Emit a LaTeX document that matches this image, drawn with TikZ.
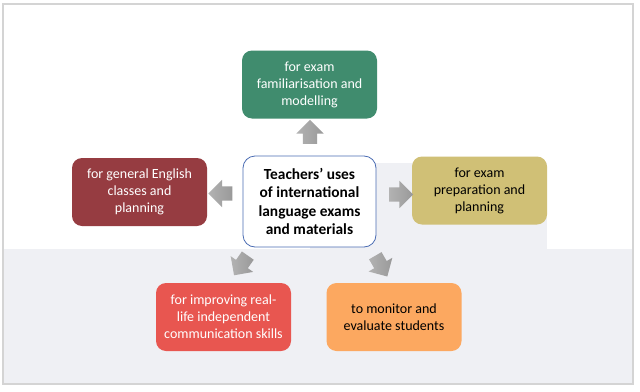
\documentclass[tikz,border=0pt]{standalone}
\usepackage{fontspec}
\setmainfont{Carlito}
\usetikzlibrary{shapes.arrows}
\definecolor{bggray}{HTML}{EFF0F4}
\definecolor{frameg}{HTML}{D4D4D4}
\definecolor{cgreen}{HTML}{408C6E}
\definecolor{cwine}{HTML}{963C41}
\definecolor{cgold}{HTML}{D0C076}
\definecolor{ccoral}{HTML}{E85650}
\definecolor{corange}{HTML}{FCA860}
\definecolor{cblue}{HTML}{4A6CB3}
\tikzset{
  ubox/.style  ={rounded corners=10pt,align=center,inner sep=2pt,
                 font=\fontsize{14}{17}\selectfont,minimum width=135pt,minimum height=68pt},
  hub/.style   ={draw=cblue,line width=.8pt,fill=white,rounded corners=12pt,align=center,
                 font=\fontsize{15.4}{18.3}\selectfont\bfseries,minimum width=133pt,minimum height=91pt},
  barrow/.style={single arrow,inner sep=7pt,minimum height=24pt,
                 single arrow head extend=6.5pt,left color=gray!60,right color=gray!80,draw=none},
}
\begin{document}
\begin{tikzpicture}[x=1pt,y=-1pt]
  \useasboundingbox (0,0) rectangle (640,391);

  % ---------- background ----------
  \fill[white] (3,4) rectangle (633,384);
  \fill[bggray] (3,249) rectangle (633,384);
  \fill[bggray] (310,163) rectangle (547,249);
  \draw[frameg,line width=1.2pt] (3,4) rectangle (633,384);

  % ---------- centre ----------
  \node[hub] (hub) at (309.5,201.5)
    {Teachers’ uses\\of international\\language exams\\and materials};

  % ---------- uses ----------
  \node[ubox,fill=cgreen,text=white] (famil) at (309.5,84.5)
    {for exam\\familiarisation and\\modelling};
  \node[ubox,fill=cwine,text=white] (general) at (139.5,192)
    {for general English\\classes and\\planning};
  \node[ubox,fill=cgold,text=black] (prep) at (479.5,190.5)
    {for exam\\preparation and\\planning};
  \node[ubox,fill=ccoral,text=white] (improve) at (223.5,317)
    {for improving real-\\life independent\\communication skills};
  \node[ubox,fill=corange,text=black] (monitor) at (394,317)
    {to monitor and\\evaluate students};

  % ---------- block arrows ----------
  \node[barrow,rotate=90]  (aup)    at (310,135.5) {};
  \node[barrow,rotate=180] (aleft)  at (224,193.5) {};
  \node[barrow]            (aright) at (397.5,194.5) {};
  \node[barrow,rotate=235] (adl)    at (243,262.5) {};
  \node[barrow,rotate=300] (adr)    at (379.5,263) {};

\end{tikzpicture}
\end{document}
